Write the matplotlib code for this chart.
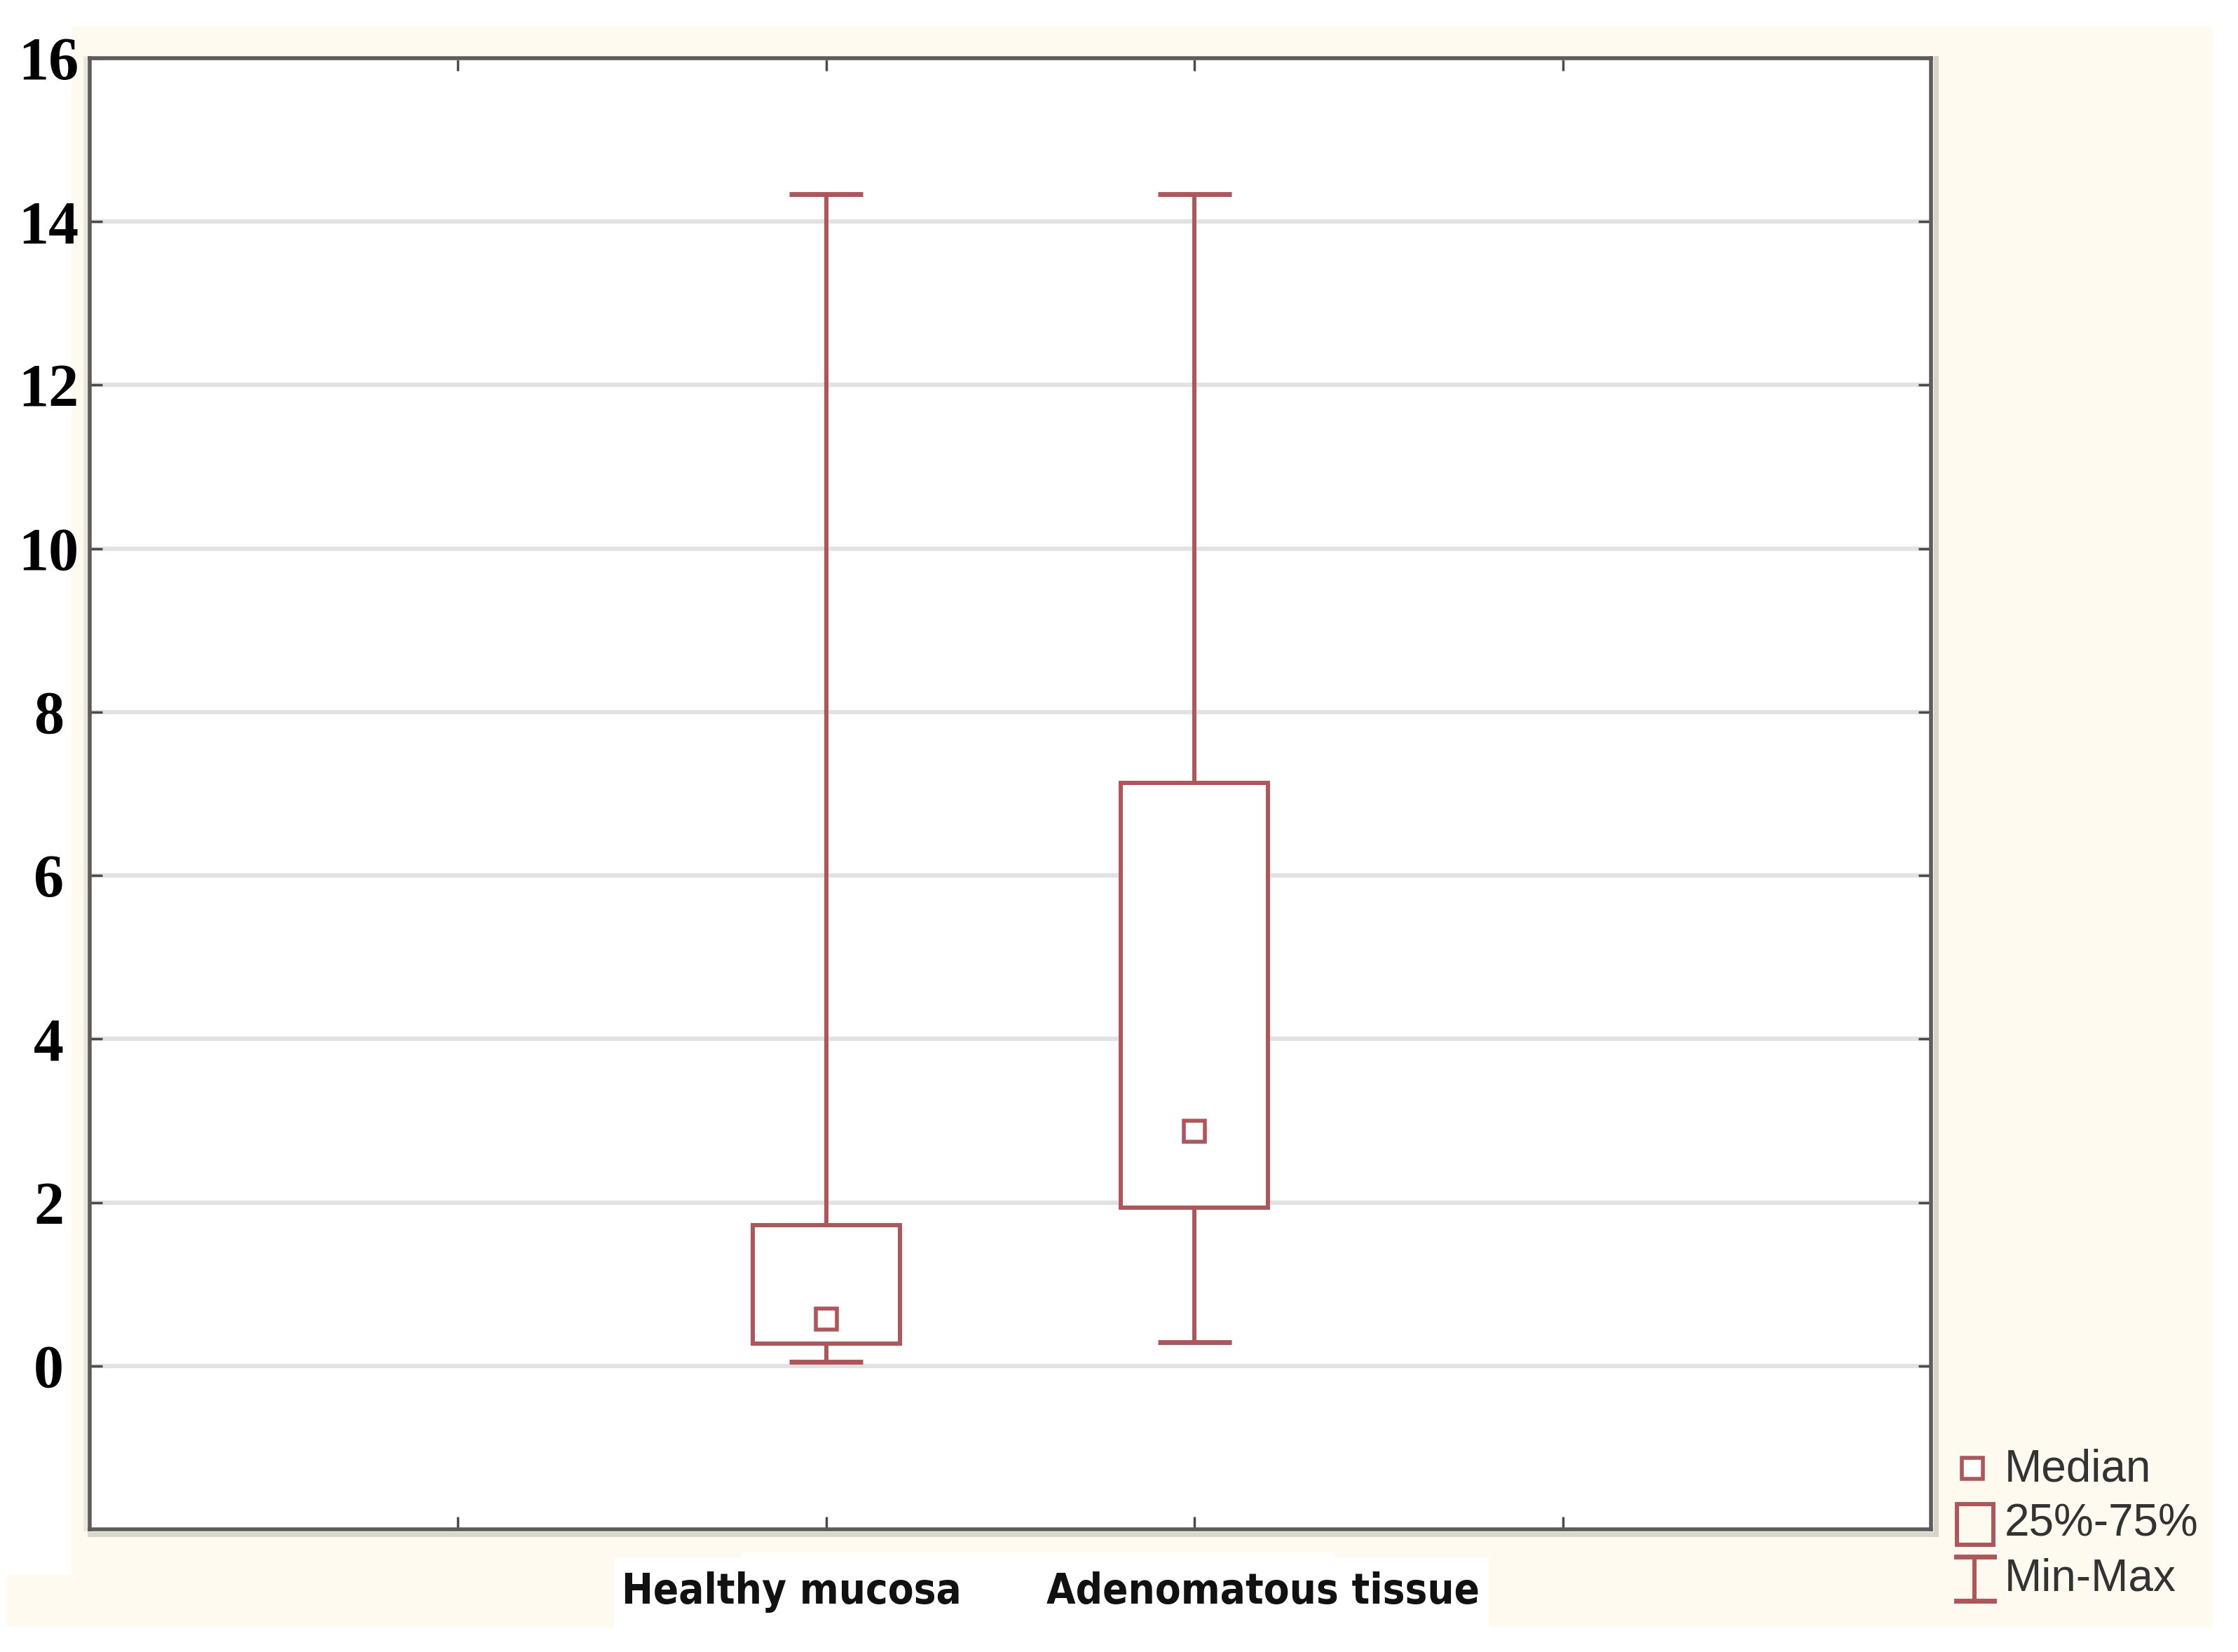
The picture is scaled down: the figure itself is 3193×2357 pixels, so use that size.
import matplotlib
matplotlib.use("Agg")
import matplotlib.pyplot as plt
from matplotlib import font_manager
from matplotlib.patches import Rectangle
from matplotlib.transforms import blended_transform_factory

# Data
groups = ["Healthy mucosa", "Adenomatous tissue"]
positions = [2, 3]
minimum = [0.05, 0.29]
q1 = [0.27, 1.94]
median = [0.57, 2.87]
q3 = [1.72, 7.13]
maximum = [14.34, 14.34]
label_offsets = [-0.095, 0.186]   # labels in the source are not centred on ticks

legend_labels = ["Median", "25%-75%", "Min-Max"]

box_col = "#b0565a"
spine_col = "#5c5c5c"
cream = "#fffaef"

# pick a condensed bold font for the category labels if one is installed
fonts = font_manager.fontManager.ttflist
names = {f.name for f in fonts}
cat_font = dict(fontfamily="DejaVu Sans", fontsize=37)
if "Liberation Sans Narrow" in names:
    cat_font = dict(fontfamily="Liberation Sans Narrow", fontsize=52)
elif any(f.name == "DejaVu Sans" and "condensed" in str(f.stretch) for f in fonts):
    cat_font = dict(fontfamily="DejaVu Sans", fontstretch="condensed", fontsize=43)

W, H = 3193, 2357
fig = plt.figure(figsize=(W / 100, H / 100), dpi=100)
fig.patch.set_facecolor("white")

# background layer in pixel coordinates (cream panel + legend)
bg = fig.add_axes([0, 0, 1, 1], zorder=-1)
bg.set_xlim(0, W)
bg.set_ylim(H, 0)
bg.axis("off")
bg.add_patch(Rectangle((102, 38), 3157 - 102, 2322 - 38, color=cream, lw=0))
bg.add_patch(Rectangle((10, 2247), 102 - 10, 2322 - 2247, color=cream, lw=0))
bg.add_patch(Rectangle((876, 2222), 2124 - 876, 2322 - 2222, color="white", lw=0))
bg.add_patch(Rectangle((1059, 2215), 1904 - 1059, 10, color="white", lw=0))
# faint shadow along the frame
bg.plot([122, 122], [83, 2182], color="#ebe7db", lw=4)
bg.plot([128, 2755], [2189, 2189], color="#d9d6cb", lw=5)
bg.plot([2762, 2762], [83, 2189], color="#d6d2c6", lw=5)

# main axes
left, right, top, bottom = 128, 2755, 83, 2182
ax = fig.add_axes([left / W, 1 - bottom / H, (right - left) / W, (bottom - top) / H])
ax.set_facecolor("white")
ax.set_xlim(0, 5)
ax.set_ylim(-2, 16)

ax.set_yticks(range(0, 17, 2))
ax.set_yticklabels([str(v) for v in range(0, 17, 2)],
                   fontfamily="Liberation Serif", fontweight="bold", fontsize=62)
for lab in ax.get_yticklabels():
    lab.set_horizontalalignment("center")
ax.set_xticks([1, 2, 3, 4])
ax.set_xticklabels([])
ax.tick_params(axis="both", which="both", direction="in", length=13, width=2.5,
               color="#4a4a4a", top=True, right=True)
ax.tick_params(axis="y", pad=42)
ax.grid(axis="y", color="#e2e2e2", lw=4.5)
ax.set_axisbelow(True)
for s in ax.spines.values():
    s.set_color(spine_col)
    s.set_linewidth(4)

# whiskers, caps, boxes, medians
ax.vlines(positions, minimum, q1, color=box_col, lw=4.3, zorder=2)
ax.vlines(positions, q3, maximum, color=box_col, lw=4.3, zorder=2)
for p, lo, hi in zip(positions, minimum, maximum):
    ax.hlines([lo, hi], p - 0.1, p + 0.1, color=box_col, lw=5, zorder=2)
ax.bar(positions, [b - a for a, b in zip(q1, q3)], bottom=q1, width=0.4,
       facecolor="white", edgecolor=box_col, lw=4.3, zorder=3)
ax.plot(positions, median, ls="none", marker="s", ms=22, mfc="white",
        mec=box_col, mew=4, zorder=4)

# category labels
tr = blended_transform_factory(ax.transData, ax.transAxes)
for p, off, g in zip(positions, label_offsets, groups):
    ax.text(p + off, -0.0505, g, transform=tr, ha="center", va="baseline",
            fontweight="bold", color="#111111", **cat_font)

# legend drawn in pixel space
bg.plot([2814], [2095], ls="none", marker="s", ms=22, mfc="white", mec=box_col, mew=4)
bg.add_patch(Rectangle((2792, 2146), 52, 58, fill=False, ec=box_col, lw=4.3))
bg.plot([2817, 2817], [2221, 2284], color=box_col, lw=4.3)
bg.plot([2791, 2845], [2221, 2221], color=box_col, lw=5)
bg.plot([2791, 2845], [2284, 2284], color=box_col, lw=5)
for y, t in zip([2097, 2175, 2252], legend_labels):
    bg.text(2860, y, t, ha="left", va="center", fontsize=46,
            fontfamily="Liberation Sans", color="#333333")

fig.savefig("out.png", dpi=100, facecolor="white")
